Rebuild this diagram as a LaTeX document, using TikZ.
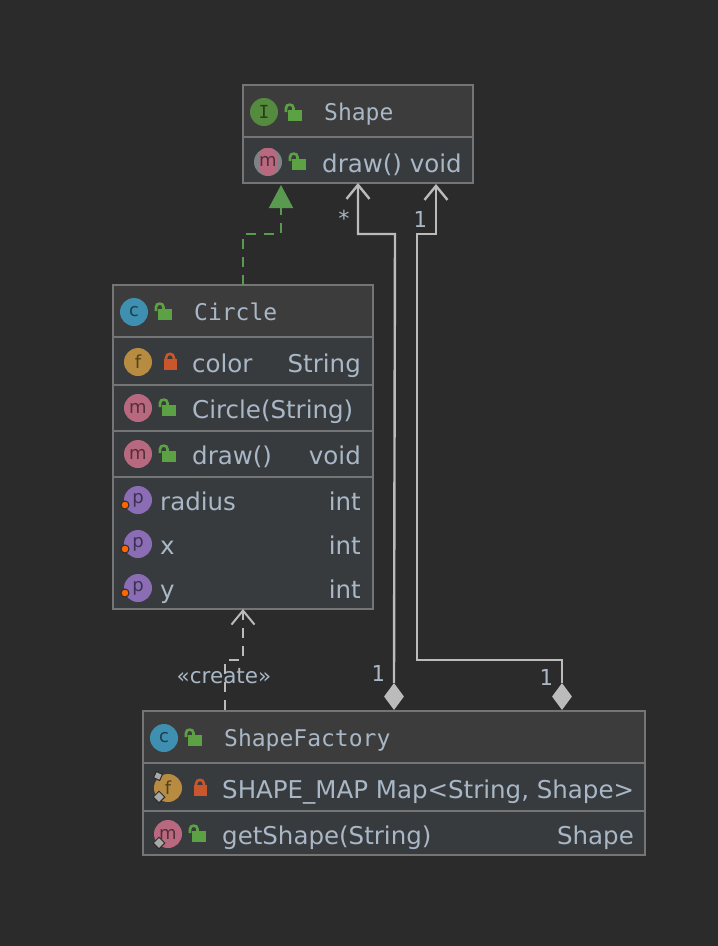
\documentclass[tikz,border=0pt]{standalone}
\usepackage{fontspec}
\setmainfont{DejaVu Sans}
\newfontfamily\titlefont{DejaVu Sans Mono}
\usetikzlibrary{arrows.meta,shapes.geometric}

\definecolor{canvas}{HTML}{2B2B2B}
\definecolor{headfill}{HTML}{3C3C3C}
\definecolor{bodyfill}{HTML}{383B3E}
\definecolor{frame}{HTML}{757575}
\definecolor{ink}{HTML}{A9B7C6}
\definecolor{wire}{HTML}{BBBBBB}
\definecolor{realgreen}{HTML}{5A9A50}
\definecolor{lockgreen}{HTML}{5CA244}
\definecolor{lockred}{HTML}{C9572B}
\definecolor{iconI}{HTML}{558B3E}
\definecolor{iconC}{HTML}{3F8FB0}
\definecolor{iconF}{HTML}{B88C40}
\definecolor{iconM}{HTML}{B8687F}
\definecolor{iconP}{HTML}{8A6DB5}

\tikzset{
	headrow/.style={draw=frame,line width=2pt,fill=headfill,anchor=north west,inner sep=0pt,outer sep=0pt},
	bodyrow/.style={draw=frame,line width=2pt,fill=bodyfill,anchor=north west,inner sep=0pt,outer sep=0pt},
	member/.style={text=ink,anchor=base west,inner sep=0pt,font=\fontsize{24.5}{28}\selectfont},
	typeof/.style={member,anchor=base east},
	title/.style={text=ink,anchor=base west,inner sep=0pt,font=\titlefont\fontsize{23}{26}\selectfont},
	multi/.style={text=ink,inner sep=0pt,font=\titlefont\fontsize{22}{24}\selectfont},
	icon/.style={circle,minimum size=28pt,inner sep=0pt,font=\fontsize{18}{18}\selectfont},
	pill/.style={rectangle,rounded corners=7pt,minimum width=16pt,minimum height=27pt,inner sep=0pt,font=\fontsize{18}{18}\selectfont},
	assoc/.style={draw=wire,line width=2.4pt,-{Straight Barb[length=14pt,width=23pt]}},
	creates/.style={assoc,line width=2pt,dash pattern=on 10pt off 8pt},
	realizes/.style={draw=realgreen,line width=2pt,dash pattern=on 10pt off 8pt,-{Triangle[length=23pt,width=24pt,fill=realgreen]}},
	owner/.style={diamond,fill=wire,minimum width=20pt,minimum height=27pt,inner sep=0pt},
	marker/.style={diamond,fill=wire!90!black,draw=canvas,line width=1pt,minimum size=12pt,inner sep=0pt},
	dotmark/.style={circle,fill=orange!80!red,draw=canvas,line width=1pt,minimum size=8pt,inner sep=0pt},
	openlock/.pic={
		\fill[lockgreen] (-7,-5) rectangle (7,5.5);
		\draw[lockgreen,line width=2.6pt] (-1.5,-4) -- (-1.5,-7) .. controls (-1.5,-11.5) and (-9,-11.5) .. (-9,-7) -- (-9,-3);
	},
	closedlock/.pic={
		\fill[lockred] (-6.5,-4) rectangle (6.5,7);
		\draw[lockred,line width=2.6pt] (-4,-3) -- (-4,-5) .. controls (-4,-10.5) and (4,-10.5) .. (4,-5) -- (4,-3);
	},
}

\begin{document}
\begin{tikzpicture}[x=1pt,y=-1pt]
		\useasboundingbox[fill=canvas] (0,0) rectangle (718,946);

		% Shape
		\node[headrow,minimum width=230pt,minimum height=52pt] (shapeHead) at (243,85) {};
		\node[bodyrow,minimum width=230pt,minimum height=46pt] (shapeBody) at (243,137) {};
		\node[icon,fill=iconI,text=iconI!45!black,font=\titlefont\fontsize{18}{18}\selectfont] (shapeIcon) at (264,112) {I};
		\pic at (295,115) {openlock};
		\node[title] (shapeName) at (324,120) {Shape};
		\node[circle,fill=frame!80!ink,minimum size=28pt,inner sep=0pt] (drawBack) at (268,162) {};
		\node[pill,fill=iconM,text=iconM!45!black] (drawIcon) at (268,161.5) {m};
		\pic at (299,164) {openlock};
		\node[member] (shapeDraw) at (322,172) {draw() void};

		% Circle
		\node[headrow,minimum width=260pt,minimum height=52pt] (circleHead) at (113,285) {};
		\node[bodyrow,minimum width=260pt,minimum height=48pt] (colorRow) at (113,337) {};
		\node[bodyrow,minimum width=260pt,minimum height=46pt] (ctorRow) at (113,385) {};
		\node[bodyrow,minimum width=260pt,minimum height=46pt] (circleDrawRow) at (113,431) {};
		\node[bodyrow,minimum width=260pt,minimum height=132pt] (propRow) at (113,477) {};
		\node[icon,fill=iconC,text=iconC!45!black] (circleIcon) at (134,312) {c};
		\pic at (165,314) {openlock};
		\node[title] (circleName) at (194,320) {Circle};
		\node[icon,fill=iconF,text=iconF!45!black] (colorIcon) at (138,362) {f};
		\pic at (170,363) {closedlock};
		\node[member] (colorName) at (192,372) {color};
		\node[typeof] (colorType) at (361,372) {String};
		\node[icon,fill=iconM,text=iconM!45!black] (ctorIcon) at (138,408) {m};
		\pic at (169,410) {openlock};
		\node[member] (ctorName) at (192,418) {Circle(String)};
		\node[icon,fill=iconM,text=iconM!45!black] (circleDrawIcon) at (138,454) {m};
		\pic at (169,456) {openlock};
		\node[member] (circleDraw) at (192,464) {draw()};
		\node[typeof] (circleDrawType) at (361,464) {void};
		\node[icon,fill=iconP,text=iconP!45!black] (radiusIcon) at (138,500) {p};
		\node[dotmark] (radiusDot) at (125,505) {};
		\node[member] (radiusName) at (160,510) {radius};
		\node[typeof] (radiusType) at (361,510) {int};
		\node[icon,fill=iconP,text=iconP!45!black] (xIcon) at (138,544) {p};
		\node[dotmark] (xDot) at (125,549) {};
		\node[member] (xName) at (160,554) {x};
		\node[typeof] (xType) at (361,554) {int};
		\node[icon,fill=iconP,text=iconP!45!black] (yIcon) at (138,588) {p};
		\node[dotmark] (yDot) at (125,593) {};
		\node[member] (yName) at (160,598) {y};
		\node[typeof] (yType) at (361,598) {int};

		% ShapeFactory
		\node[headrow,minimum width=502pt,minimum height=52pt] (factoryHead) at (143,711) {};
		\node[bodyrow,minimum width=502pt,minimum height=48pt] (mapRow) at (143,763) {};
		\node[bodyrow,minimum width=502pt,minimum height=44pt] (getRow) at (143,811) {};
		\node[icon,fill=iconC,text=iconC!45!black] (factoryIcon) at (164,738) {c};
		\pic at (195,740) {openlock};
		\node[title] (factoryName) at (224,746) {ShapeFactory};
		\node[icon,fill=iconF,text=iconF!45!black] (mapIcon) at (168,788) {f};
		\node[marker,rotate=20,minimum size=10pt] (mapPin) at (158,776) {};
		\node[marker] (mapMark) at (159,797) {};
		\pic at (200,789) {closedlock};
		\node[member] (mapName) at (222,798) {SHAPE\_MAP Map<String, Shape>};
		\node[icon,fill=iconM,text=iconM!45!black] (getIcon) at (168,834) {m};
		\node[marker] (getMark) at (159,843) {};
		\pic at (199,836) {openlock};
		\node[member] (getName) at (222,844) {getShape(String)};
		\node[typeof] (getType) at (634,844) {Shape};

		% connectors
		\node[owner] (ownerA) at (394,696.5) {};
		\node[owner] (ownerB) at (562,696.5) {};
		\coordinate (realizeEnd) at (281,185);
		\coordinate (voidEnd) at (436,184);
		\coordinate (createStart) at (225,710);
		\draw[realizes] (circleHead.north) -- (243,234) -| (realizeEnd);
		\draw[assoc] (ownerA.north) -- (395,234) -| (shapeBody.south);
		\draw[assoc] (ownerB.north) |- (417,660) -- (417,234) -| (voidEnd);
		\draw[creates] (createStart) |- (243,660) -- (propRow.south);

		\node[multi] (starA) at (344,218) {*};
		\node[multi] (oneA) at (420,219) {1};
		\node[multi] (oneB) at (378,673) {1};
		\node[multi] (oneC) at (546,677) {1};
		\node[text=ink,inner sep=0pt,font=\fontsize{21.5}{24}\selectfont] (createLabel) at (224,676) {«create»};
		\end{tikzpicture}
\end{document}
